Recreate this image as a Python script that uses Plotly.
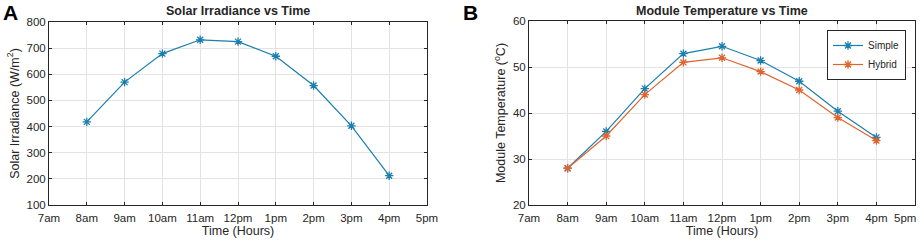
import plotly.graph_objects as go

hours = [8, 9, 10, 11, 12, 13, 14, 15, 16]
tick_vals = [7, 8, 9, 10, 11, 12, 13, 14, 15, 16, 17]
tick_text = ["7am", "8am", "9am", "10am", "11am", "12pm", "1pm", "2pm", "3pm", "4pm", "5pm"]
irradiance = [418, 570, 679, 732, 725, 669, 557, 403, 212]
temp_simple = [28, 36, 45.3, 52.9, 54.5, 51.4, 46.9, 40.4, 34.7]
temp_hybrid = [28, 35, 44, 51, 52, 49, 45, 39, 34]

BLUE = "#1a7fae"
ORANGE = "#e0642f"
FONT = "Liberation Sans, Arial, sans-serif"
W, H = 920, 241

def px_x(p):
    return p / W

def px_y(p):
    return 1 - p / H

fig = go.Figure()
mk = dict(symbol="asterisk-open", size=7, line=dict(width=1.3))
fig.add_trace(go.Scatter(x=hours, y=irradiance, mode="lines+markers", showlegend=False,
                         line=dict(color=BLUE, width=1.2), marker=dict(color=BLUE, **mk),
                         xaxis="x", yaxis="y"))
fig.add_trace(go.Scatter(x=hours, y=temp_simple, mode="lines+markers", name="Simple",
                         line=dict(color=BLUE, width=1.2), marker=dict(color=BLUE, **mk),
                         xaxis="x2", yaxis="y2"))
fig.add_trace(go.Scatter(x=hours, y=temp_hybrid, mode="lines+markers", name="Hybrid",
                         line=dict(color=ORANGE, width=1.2), marker=dict(color=ORANGE, **mk),
                         xaxis="x2", yaxis="y2"))

axis_common = dict(showline=True, linecolor="#262626", linewidth=1, mirror="ticks",
                   ticks="inside", ticklen=3, tickcolor="#262626", automargin=False,
                   showgrid=True, gridcolor="#e3e3e3", gridwidth=1, zeroline=False,
                   tickfont=dict(family=FONT, size=11.5, color="#262626"))

x_extra = dict(ticklabelstandoff=2)

# last x tick label of panel B is drawn as an annotation, nudged inward so it fits
tick_text_b = tick_text[:-1] + [""]

fig.update_layout(
    width=W, height=H, margin=dict(l=0, r=0, t=0, b=0, autoexpand=False),
    paper_bgcolor="white", plot_bgcolor="white",
    font=dict(family=FONT, color="#262626"),
    xaxis=dict(domain=[px_x(49), px_x(427)], range=[7, 17], tickvals=tick_vals, ticktext=tick_text,
               anchor="y", title=dict(text="Time (Hours)", font=dict(size=12.5), standoff=3),
               **x_extra, **axis_common),
    yaxis=dict(domain=[px_y(205), px_y(22)], range=[100, 800], dtick=100, anchor="x",
               title=dict(text="Solar Irradiance (W/m<sup>2</sup>)", font=dict(size=12.5), standoff=4),
               **axis_common),
    xaxis2=dict(domain=[px_x(529), px_x(915)], range=[7, 17], tickvals=tick_vals, ticktext=tick_text_b,
                anchor="y2", title=dict(text="Time (Hours)", font=dict(size=12.5), standoff=3),
                **x_extra, **axis_common),
    yaxis2=dict(domain=[px_y(205), px_y(21)], range=[20, 60], dtick=10, anchor="x2",
                title=dict(text="Module Temperature (<sup>o</sup>C)", font=dict(size=12.5), standoff=4),
                **axis_common),
    legend=dict(x=px_x(827), y=px_y(30), xanchor="left", yanchor="top",
                bordercolor="#262626", borderwidth=1, bgcolor="white",
                font=dict(family=FONT, size=10, color="#262626"),
                tracegroupgap=0, itemwidth=30),
    annotations=[
        dict(text="<b>Solar Irradiance vs Time</b>", x=(px_x(49) + px_x(427)) / 2, y=px_y(11),
             xref="paper", yref="paper", showarrow=False, xanchor="center", yanchor="middle",
             font=dict(size=12.5)),
        dict(text="<b>Module Temperature vs Time</b>", x=(px_x(529) + px_x(915)) / 2, y=px_y(11),
             xref="paper", yref="paper", showarrow=False, xanchor="center", yanchor="middle",
             font=dict(size=12.5)),
        dict(text="<b>A</b>", x=px_x(1), y=px_y(12), xref="paper", yref="paper", showarrow=False,
             xanchor="left", yanchor="middle", font=dict(size=21, color="black")),
        dict(text="<b>B</b>", x=px_x(461), y=px_y(12), xref="paper", yref="paper", showarrow=False,
             xanchor="left", yanchor="middle", font=dict(size=21, color="black")),
        dict(text=tick_text[-1], x=px_x(918), y=px_y(218), xref="paper", yref="paper", showarrow=False,
             xanchor="right", yanchor="middle", font=dict(size=11.5, color="#262626")),
    ],
)

fig.write_html("out.html", config={"displayModeBar": False},
               post_script="document.body.style.margin='0px';")
